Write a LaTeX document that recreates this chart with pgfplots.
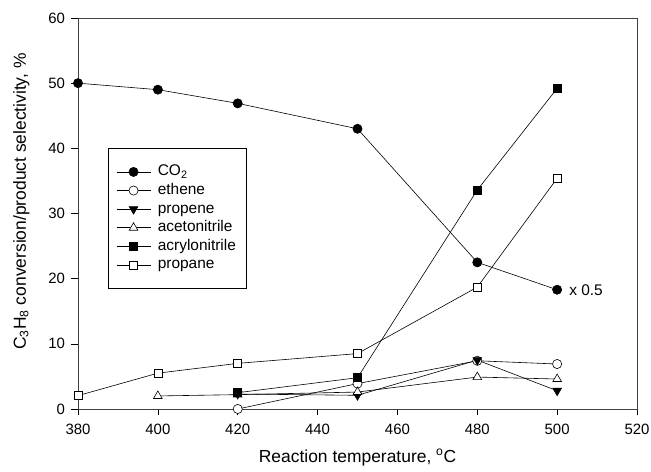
\documentclass[border=0pt]{standalone}
\usepackage{fontspec}
\setmainfont{Liberation Sans}
\usepackage{pgfplots}
\pgfplotsset{compat=1.18}
\begin{document}
\begin{tikzpicture}
\begin{axis}[
  name=ax,
  width=559bp, height=391bp, scale only axis=true,
  xmin=380, xmax=520, ymin=0, ymax=60,
  xtick={380,400,...,520}, ytick={0,10,...,60},
  tick pos=left, tick align=outside, major tick length=6.5bp,
  axis line style={black!75, line width=0.8bp},
  tick style={black, line width=0.6bp},
  /pgf/number format/assume math mode=true,
  /pgf/number format/1000 sep={},
  ticklabel style={font=\fontsize{15}{18}\selectfont},
  xticklabel style={yshift=-5bp},
  yticklabel style={xshift=-3bp},
  xlabel={Reaction temperature, \textsuperscript{o}C},
  ylabel={C\textsubscript{3}H\textsubscript{8} conversion/product selectivity, \%},
  label style={font=\fontsize{17.5}{20}\selectfont},
  xlabel style={yshift=-8bp},
  ylabel style={yshift=12bp, xshift=12bp},
  every axis plot/.append style={black, line width=0.6bp},
  legend style={draw=black, line width=0.6bp, at={(axis cs:387.5,40)}, anchor=north west,
    font=\fontsize{15.5}{18}\selectfont, inner xsep=8bp, inner ysep=14bp, row sep=0pt,
    column sep=5bp, nodes={inner sep=2bp, text height=11.2bp, text depth=3.4bp}},
  legend cell align=left,
  legend image code/.code={\draw[mark repeat=2,mark phase=2] plot coordinates {(0bp,0bp)(17bp,0bp)(34bp,0bp)};},
]
\addplot[mark=*, mark size=4.6bp, mark options={fill=black, solid}] coordinates {
  (380,50) (400,49) (420,46.9) (450,43) (480,22.5) (500,18.3)};
\addlegendentry{CO\textsubscript{2}}
\addplot[mark=*, mark size=4.6bp, mark options={fill=white, solid}] coordinates {
  (420,0) (450,3.9) (480,7.4) (500,6.9)};
\addlegendentry{ethene}
\addplot[mark=triangle*, mark size=5bp, mark options={fill=black, rotate=180, solid}] coordinates {
  (420,2.3) (450,2.1) (480,7.5) (500,2.8)};
\addlegendentry{propene}
\addplot[mark=triangle*, mark size=5bp, mark options={fill=white, solid}] coordinates {
  (400,2.0) (420,2.2) (450,2.6) (480,4.9) (500,4.6)};
\addlegendentry{acetonitrile}
\addplot[mark=square*, mark size=4bp, mark options={fill=black, solid}] coordinates {
  (420,2.5) (450,4.8) (480,33.6) (500,49.2)};
\addlegendentry{acrylonitrile}
\addplot[mark=square*, mark size=4bp, mark options={fill=white, solid}] coordinates {
  (380,2.05) (400,5.5) (420,7.0) (450,8.5) (480,18.7) (500,35.4)};
\addlegendentry{propane}
\node[anchor=west, font=\fontsize{15.5}{18}\selectfont, inner sep=0pt] at (axis cs:503,18.3) {x 0.5};
\end{axis}
\pgfresetboundingbox
\path (ax.south west) ++(-78bp,-63bp) coordinate (bl);
\path (ax.north east) ++(14bp,18bp) coordinate (tr);
\path[use as bounding box] (bl) rectangle (tr);
\end{tikzpicture}
\end{document}
